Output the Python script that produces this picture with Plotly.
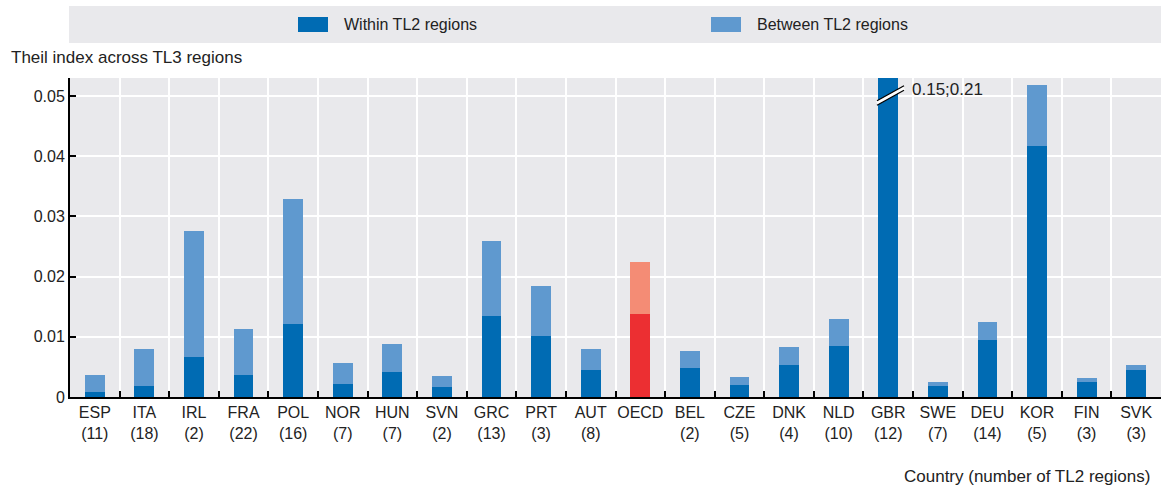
import plotly.graph_objects as go

countries = ["ESP", "ITA", "IRL", "FRA", "POL", "NOR", "HUN", "SVN", "GRC", "PRT", "AUT",
             "OECD", "BEL", "CZE", "DNK", "NLD", "GBR", "SWE", "DEU", "KOR", "FIN", "SVK"]
n_regions = ["11", "18", "2", "22", "16", "7", "7", "2", "13", "3", "8",
             "", "2", "5", "4", "10", "12", "7", "14", "5", "3", "3"]
within = [0.0009, 0.0018, 0.0067, 0.0037, 0.0121, 0.0022, 0.0042, 0.0017, 0.0135, 0.0102, 0.0045,
          0.0138, 0.0048, 0.0020, 0.0054, 0.0085, 0.15, 0.0018, 0.0095, 0.0417, 0.0025, 0.0045]
total = [0.0037, 0.0080, 0.0276, 0.0113, 0.0329, 0.0056, 0.0088, 0.0035, 0.0259, 0.0185, 0.0079,
         0.0225, 0.0077, 0.0033, 0.0083, 0.0130, 0.21, 0.0025, 0.0125, 0.0518, 0.0032, 0.0053]
between = [round(t - w, 4) for t, w in zip(total, within)]
y_ticks = [0, 0.01, 0.02, 0.03, 0.04, 0.05]
y_tick_text = ["0", "0.01", "0.02", "0.03", "0.04", "0.05"]

DARK = "#006BB3"
LIGHT = "#5F99CF"
OECD_DARK = "#EC2F32"
OECD_LIGHT = "#F48C75"
BG = "#E9E9EC"
TXT = "#222222"
FONT = "Liberation Sans, Arial, sans-serif"

labels = [c + ("<br>(" + n + ")" if n else "") for c, n in zip(countries, n_regions)]
dark_colors = [OECD_DARK if c == "OECD" else DARK for c in countries]
light_colors = [OECD_LIGHT if c == "OECD" else LIGHT for c in countries]

fig = go.Figure()
fig.add_trace(go.Bar(x=countries, y=within, name="Within TL2 regions",
                     marker=dict(color=dark_colors, line=dict(width=0)), width=0.4))
fig.add_trace(go.Bar(x=countries, y=between, name="Between TL2 regions",
                     marker=dict(color=light_colors, line=dict(width=0)), width=0.4))

W, H = 1161, 487
L, R, T, B = 70, 0, 78, 90
pw, ph = W - L - R, H - T - B

def px(x):
    return (x - L) / pw

def py(y):
    return (H - B - y) / ph

shapes = [
    dict(type="rect", xref="paper", yref="paper", x0=px(69), x1=px(1161), y0=py(43), y1=py(6),
         fillcolor=BG, line=dict(width=0), layer="below"),
    dict(type="rect", xref="paper", yref="paper", x0=px(298), x1=px(328), y0=py(32), y1=py(17),
         fillcolor=DARK, line=dict(width=0)),
    dict(type="rect", xref="paper", yref="paper", x0=px(711), x1=px(741), y0=py(32), y1=py(17),
         fillcolor=LIGHT, line=dict(width=0)),
]
# axis break marker on the GBR bar
for dy, col, wd in [(0, "white", 4), (-2.2, "black", 1.3), (2.2, "black", 1.3)]:
    shapes.append(dict(type="line", xref="paper", yref="paper",
                       x0=px(877), y0=py(103 + dy), x1=px(904), y1=py(88 + dy),
                       line=dict(color=col, width=wd)))

annotations = [
    dict(text="Within TL2 regions", xref="paper", yref="paper", x=px(342), y=py(25),
         xanchor="left", yanchor="middle", showarrow=False, font=dict(size=16, color=TXT)),
    dict(text="Between TL2 regions", xref="paper", yref="paper", x=px(755), y=py(25),
         xanchor="left", yanchor="middle", showarrow=False, font=dict(size=16, color=TXT)),
    dict(text="Theil index across TL3 regions", xref="paper", yref="paper", x=px(9), y=py(57),
         xanchor="left", yanchor="middle", showarrow=False, font=dict(size=17, color=TXT)),
    dict(text="Country (number of TL2 regions)", xref="paper", yref="paper", x=px(1152), y=py(476),
         xanchor="right", yanchor="middle", showarrow=False, font=dict(size=17, color=TXT)),
    dict(text="0.15;0.21", xref="paper", yref="paper", x=px(910), y=py(90),
         xanchor="left", yanchor="middle", showarrow=False, font=dict(size=17, color=TXT)),
]

fig.update_layout(
    width=W, height=H,
    margin=dict(l=L, r=R, t=T, b=B, pad=0),
    barmode="stack",
    showlegend=False,
    paper_bgcolor="white",
    plot_bgcolor=BG,
    font=dict(family=FONT, size=16, color=TXT),
    shapes=shapes,
    annotations=annotations,
    xaxis=dict(tickmode="array", tickvals=countries, ticktext=labels, tickson="boundaries",
               tickangle=0, automargin=False,
               ticks="inside", ticklen=6, tickcolor="black", tickwidth=1.5,
               showgrid=True, gridcolor="white", gridwidth=2,
               showline=True, linecolor="black", linewidth=2,
               tickfont=dict(size=16, color=TXT), fixedrange=True),
    yaxis=dict(range=[0, 0.053], tickvals=y_ticks, ticktext=y_tick_text, automargin=False,
               ticks="inside", ticklen=6, tickcolor="black", tickwidth=1.5,
               showgrid=True, gridcolor="white", gridwidth=2, zeroline=False,
               showline=True, linecolor="black", linewidth=2,
               tickfont=dict(size=16, color=TXT), fixedrange=True),
)

fig.write_html("out.html", config={"displayModeBar": False},
               post_script="document.body.style.margin='0';")
